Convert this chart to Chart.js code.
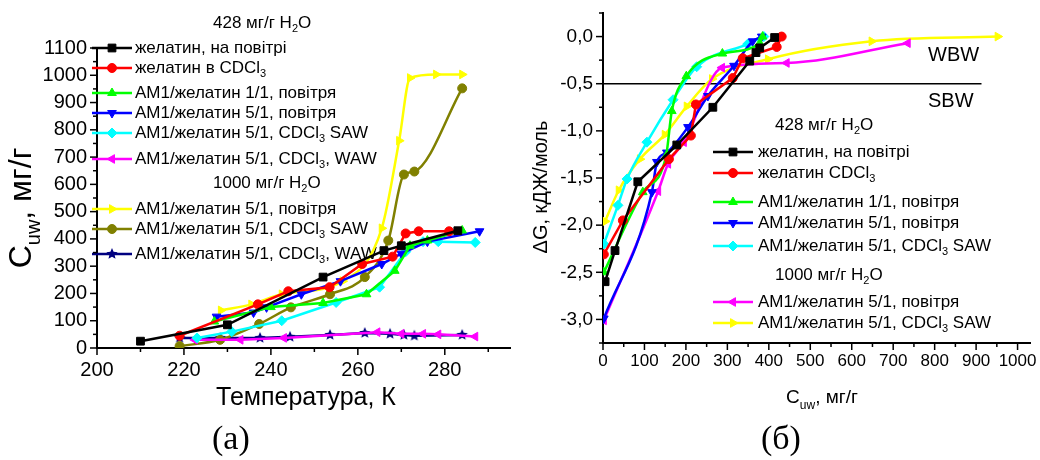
<!DOCTYPE html>
<html>
<head>
<meta charset="utf-8">
<script src="https://cdn.jsdelivr.net/npm/chart.js@4.4.1/dist/chart.umd.min.js"></script>
<style>
  body { margin: 0; background: #fff; }
  #wrap { position: relative; width: 1040px; height: 460px; overflow: hidden; }
  canvas { position: absolute; top: 0; }
  .cap { position: absolute; top: 421px; font-family: 'Liberation Serif', 'Times New Roman', serif; font-size: 34px; line-height: 34px; }
</style>
</head>
<body>
<div id="wrap">
  <canvas id="chartA" width="520" height="460" style="left:0"></canvas>
  <canvas id="chartB" width="520" height="460" style="left:520px"></canvas>
  <div class="cap" style="left:212px">(а)</div>
  <div class="cap" style="left:761px">(б)</div>
</div>
<script>
const FONT = "'Liberation Sans', Arial, sans-serif";

// ---------- panel (а): Cuw vs temperature ----------
const tempTicks = [200, 220, 240, 260, 280];
const tempMinor = [210, 230, 250, 270, 290];
const cuwTicksA = [0, 100, 200, 300, 400, 500, 600, 700, 800, 900, 1000, 1100];
const cuwMinorA = [50, 150, 250, 350, 450, 550, 650, 750, 850, 950, 1050];

// 428 mg/g H2O
const gelAirT = [210, 230, 252, 266, 270, 283];
const gelAirC = [25, 85, 260, 357, 375, 430];
const gelCdclT = [219, 237, 244, 253.5, 261, 268, 271, 274, 281];
const gelCdclC = [45, 160, 208, 223, 308, 335, 420, 428, 428];
const am11AirT = [227, 240, 252, 262, 268.5, 272, 276, 284];
const am11AirC = [97, 150, 165, 197, 283, 375, 394, 431];
const am51AirT = [227.5, 236, 239, 247, 256, 265.5, 270, 276, 288];
const am51AirC = [115, 130, 149, 197, 245, 308, 346, 390, 428];
const am51SawT = [223, 231, 242.5, 255, 265, 271, 275, 278.5, 287];
const am51SawC = [37, 60, 100, 167, 223, 353, 390, 390, 387];
const am51WawT = [222.5, 233, 243, 264.5, 270, 275, 278.5, 287];
const am51WawC = [30, 30, 37, 58, 52, 52, 50, 42];
// 1000 mg/g H2O
const hiAirT = [228.5, 235.5, 242.5, 256.5, 265.5, 269.5, 272, 278, 284];
const hiAirC = [138, 160, 197, 245, 439, 760, 990, 1003, 1003];
const hiSawT = [219, 228.3, 237.3, 244.6, 253.6, 261.6, 267, 270.6, 273, 284];
const hiSawC = [7, 30, 88, 149, 197, 260, 394, 636, 647, 952];
const hiWawT = [219, 228.4, 237.5, 244.4, 253.6, 261.6, 267.4, 270.6, 273, 284];
const hiWawC = [37, 37, 37, 41, 48, 55, 52, 48, 45, 48];

// ---------- panel (б): dG vs Cuw ----------
const cuwTicksB = [0, 100, 200, 300, 400, 500, 600, 700, 800, 900, 1000];
const cuwMinorB = [50, 150, 250, 350, 450, 550, 650, 750, 850, 950];
const dgTicks = [-3.0, -2.5, -2.0, -1.5, -1.0, -0.5, 0.0];
const dgMinor = [-3.25, -2.75, -2.25, -1.75, -1.25, -0.75, -0.25, 0.25];

const dgGelAirX = [5, 29, 84, 178, 265, 354, 369, 378, 414];
const dgGelAirY = [-2.60, -2.27, -1.54, -1.15, -0.75, -0.26, -0.17, -0.12, -0.01];
const dgGelCdclX = [2, 48, 159, 212, 224, 313, 337, 419, 431];
const dgGelCdclY = [-2.31, -1.95, -1.30, -1.05, -0.72, -0.44, -0.23, -0.11, 0.0];
const dgAm11AirX = [2, 96, 152, 166, 201, 288, 378, 385];
const dgAm11AirY = [-2.50, -1.65, -1.27, -0.79, -0.42, -0.18, -0.07, 0.0];
const dgAm51AirX = [2, 118, 130, 154, 205, 253, 316, 361, 383];
const dgAm51AirY = [-2.99, -1.65, -1.33, -1.23, -0.96, -0.63, -0.31, -0.05, 0.0];
const dgAm51SawX = [2, 36, 58, 106, 169, 226, 349, 388];
const dgAm51SawY = [-2.20, -1.79, -1.51, -1.12, -0.67, -0.32, -0.08, 0.0];
const dgHiAirX = [2, 133, 157, 195, 287, 443, 735];
const dgHiAirY = [-3.01, -1.64, -1.35, -1.12, -0.33, -0.28, -0.07];
const dgHiSawX = [5, 38, 89, 149, 202, 263, 398, 648, 952];
const dgHiSawY = [-1.96, -1.63, -1.30, -1.04, -0.74, -0.45, -0.24, -0.05, 0.0];
// boundary between strongly and weakly bound water
const boundX = [0, 913];
const boundY = [-0.5, -0.5];

// ---------- helpers ----------
function starImage(color, r) {
  const c = document.createElement('canvas');
  c.width = c.height = 2 * r + 2;
  const g = c.getContext('2d');
  g.fillStyle = color;
  g.beginPath();
  for (let i = 0; i < 10; i++) {
    const a = -Math.PI / 2 + i * Math.PI / 5;
    const rr = i % 2 ? r * 0.45 : r;
    g.lineTo(r + 1 + rr * Math.cos(a), r + 1 + rr * Math.sin(a));
  }
  g.closePath();
  g.fill();
  return c;
}

const SQUARE = { shape: 'rect', r: 5.5 };
const CIRCLE = { shape: 'circle', r: 4.5 };
const UP = { shape: 'triangle', r: 5 };
const DOWN = { shape: 'triangle', rot: 180, r: 5 };
const DIAMOND = { shape: 'rectRot', r: 5 };
const LEFT = { shape: 'triangle', rot: -90, r: 5 };
const RIGHT = { shape: 'triangle', rot: 90, r: 5 };
const STAR = { shape: starImage('#000080', 6), r: 5 };

function series(label, xs, ys, color, mark, smooth) {
  return {
    label,
    data: xs.map((x, i) => ({ x, y: ys[i] })),
    borderColor: color,
    backgroundColor: color,
    pointBackgroundColor: color,
    pointBorderColor: color,
    pointBorderWidth: 1,
    borderWidth: 2.5,
    pointStyle: mark.shape,
    pointRotation: mark.rot || 0,
    pointRadius: mark.r,
    tension: 0,
    cubicInterpolationMode: smooth ? 'monotone' : 'default'
  };
}

function drawRich(ctx, text, x, y, size, align) {
  const parts = [];
  const re = /_\{([^}]*)\}|_(.)/g;
  let last = 0, m;
  while ((m = re.exec(text))) {
    if (m.index > last) parts.push({ t: text.slice(last, m.index), sub: false });
    parts.push({ t: m[1] || m[2], sub: true });
    last = re.lastIndex;
  }
  if (last < text.length) parts.push({ t: text.slice(last), sub: false });
  ctx.save();
  ctx.fillStyle = '#000';
  ctx.textBaseline = 'middle';
  const fN = size + 'px ' + FONT, fS = Math.round(size * 0.62) + 'px ' + FONT;
  let w = 0;
  parts.forEach(p => { ctx.font = p.sub ? fS : fN; p.w = ctx.measureText(p.t).width; w += p.w; });
  let cx = align === 'center' ? x - w / 2 : align === 'right' ? x - w : x;
  parts.forEach(p => {
    ctx.font = p.sub ? fS : fN;
    ctx.fillText(p.t, cx, p.sub ? y + size * 0.38 : y);
    cx += p.w;
  });
  ctx.restore();
}

const isIn = (arr, v) => arr.some(a => Math.abs(a - v) < 1e-6);

// legend drawn inside the plot, Origin-like, with headings
const legendPlugin = {
  id: 'panelLegend',
  beforeDatasetsDraw(chart, args, o) {
    const ctx = chart.ctx;
    o.rows.forEach(row => {
      if (row.heading) { drawRich(ctx, row.heading, o.headX, row.y, o.size, 'left'); return; }
      const ds = chart.data.datasets[row.ds];
      ctx.save();
      ctx.strokeStyle = ds.borderColor;
      ctx.lineWidth = ds.borderWidth;
      ctx.beginPath();
      ctx.moveTo(o.lineX0, row.y);
      ctx.lineTo(o.lineX1, row.y);
      ctx.stroke();
      ctx.fillStyle = ds.pointBackgroundColor;
      ctx.lineWidth = 1;
      Chart.helpers.drawPoint(ctx, { pointStyle: ds.pointStyle, rotation: ds.pointRotation, radius: ds.pointRadius, borderWidth: 1 }, (o.lineX0 + o.lineX1) / 2, row.y);
      ctx.restore();
      drawRich(ctx, ds.label, o.textX, row.y, o.size, 'left');
    });
  }
};

// major / minor tick marks pointing outward
const tickPlugin = {
  id: 'originTicks',
  afterDraw(chart, args, o) {
    const ctx = chart.ctx;
    const { x, y } = chart.scales;
    ctx.save();
    ctx.strokeStyle = '#000';
    ctx.lineWidth = 1.5;
    x.ticks.forEach(t => {
      const px = x.getPixelForValue(t.value);
      const len = isIn(o.xMajor, t.value) ? 7 : 4;
      ctx.beginPath(); ctx.moveTo(px, x.top); ctx.lineTo(px, x.top + len); ctx.stroke();
    });
    y.ticks.forEach(t => {
      const py = y.getPixelForValue(t.value);
      const len = isIn(o.yMajor, t.value) ? 7 : 4;
      ctx.beginPath(); ctx.moveTo(y.right, py); ctx.lineTo(y.right - len, py); ctx.stroke();
    });
    ctx.restore();
  }
};

// axis titles and free labels (with subscripts)
const textPlugin = {
  id: 'freeText',
  afterDraw(chart, args, o) {
    const ctx = chart.ctx;
    o.items.forEach(it => {
      ctx.save();
      ctx.translate(it.x, it.y);
      if (it.rotate) ctx.rotate(-Math.PI / 2);
      drawRich(ctx, it.text, 0, 0, it.size, it.align || 'center');
      ctx.restore();
    });
  }
};

function axis(min, max, majors, minors, fmt, size, thickness, horizontal, pad) {
  return {
    type: 'linear', min, max,
    afterBuildTicks: s => { s.ticks = majors.concat(minors).sort((a, b) => a - b).map(v => ({ value: v })); },
    afterFit: s => {
      if (horizontal) { s.height = thickness; s.paddingLeft = 0; s.paddingRight = 0; }
      else { s.width = thickness; s.paddingTop = 0; s.paddingBottom = 0; }
    },
    ticks: {
      autoSkip: false, maxRotation: 0, padding: pad, color: '#000',
      font: { family: FONT, size },
      callback: v => isIn(majors, v) ? fmt(v) : ''
    },
    grid: { drawOnChartArea: false, drawTicks: true, tickLength: 7, color: 'rgba(0,0,0,0)' },
    border: { display: true, color: '#000', width: 2 }
  };
}

// ---------- chart (а) ----------
new Chart(document.getElementById('chartA'), {
  type: 'line',
  data: {
    datasets: [
      series('желатин, на повітрі', gelAirT, gelAirC, '#000000', SQUARE),
      series('желатин в CDCl_3', gelCdclT, gelCdclC, '#ff0000', CIRCLE),
      series('АМ1/желатин 1/1, повітря', am11AirT, am11AirC, '#00ff00', UP),
      series('АМ1/желатин 5/1, повітря', am51AirT, am51AirC, '#0000ff', DOWN),
      series('АМ1/желатин 5/1, CDCl_3 SAW', am51SawT, am51SawC, '#00ffff', DIAMOND),
      series('АМ1/желатин 5/1, CDCl_3, WAW', am51WawT, am51WawC, '#ff00ff', LEFT),
      series('АМ1/желатин 5/1, повітря', hiAirT, hiAirC, '#ffff00', RIGHT, true),
      series('АМ1/желатин 5/1, CDCl_3 SAW', hiSawT, hiSawC, '#808000', CIRCLE, true),
      series('АМ1/желатин 5/1, CDCl_3, WAW', hiWawT, hiWawC, '#000080', STAR)
    ]
  },
  options: {
    responsive: false,
    animation: false,
    layout: { padding: { left: 0, top: 48, right: 10, bottom: 0 } },
    plugins: {
      legend: { display: false },
      tooltip: { enabled: false },
      panelLegend: {
        headX: 213, lineX0: 92, lineX1: 132, textX: 135, size: 17,
        rows: [
          { heading: '428 мг/г H_2O', y: 23 },
          { ds: 0, y: 48 }, { ds: 1, y: 68 }, { ds: 2, y: 93 }, { ds: 3, y: 113 },
          { ds: 4, y: 133 }, { ds: 5, y: 159 },
          { heading: '1000 мг/г H_2O', y: 183 },
          { ds: 6, y: 209 }, { ds: 7, y: 229 }, { ds: 8, y: 254 }
        ]
      },
      originTicks: { xMajor: tempTicks, yMajor: cuwTicksA },
      freeText: {
        items: [
          { text: 'Температура, К', x: 306, y: 398, size: 25 },
          { text: 'C_{uw}, мг/г', x: 22, y: 208, size: 32, rotate: true }
        ]
      }
    },
    scales: {
      x: axis(200, 295, tempTicks, tempMinor, v => String(v), 20, 112, true, 3),
      y: axis(0, 1100, cuwTicksA, cuwMinorA, v => String(v), 20, 97, false, 3)
    }
  },
  plugins: [legendPlugin, tickPlugin, textPlugin]
});

// ---------- chart (б) ----------
const boundLine = series('', boundX, boundY, '#000000', CIRCLE);
boundLine.pointRadius = 0;
boundLine.borderWidth = 1.5;

new Chart(document.getElementById('chartB'), {
  type: 'line',
  data: {
    datasets: [
      series('желатин, на повітрі', dgGelAirX, dgGelAirY, '#000000', SQUARE),
      series('желатин CDCl_3', dgGelCdclX, dgGelCdclY, '#ff0000', CIRCLE),
      series('АМ1/желатин 1/1, повітря', dgAm11AirX, dgAm11AirY, '#00ff00', UP, true),
      series('АМ1/желатин 5/1, повітря', dgAm51AirX, dgAm51AirY, '#0000ff', DOWN, true),
      series('АМ1/желатин 5/1, CDCl_3 SAW', dgAm51SawX, dgAm51SawY, '#00ffff', DIAMOND, true),
      series('АМ1/желатин 5/1, повітря', dgHiAirX, dgHiAirY, '#ff00ff', LEFT, true),
      series('АМ1/желатин 5/1, CDCl_3 SAW', dgHiSawX, dgHiSawY, '#ffff00', RIGHT, true),
      boundLine
    ]
  },
  options: {
    responsive: false,
    animation: false,
    layout: { padding: { left: 0, top: 13, right: 10, bottom: 0 } },
    plugins: {
      legend: { display: false },
      tooltip: { enabled: false },
      panelLegend: {
        headX: 255, lineX0: 193, lineX1: 233, textX: 238, size: 17,
        rows: [
          { heading: '428 мг/г H_2O', y: 125 },
          { ds: 0, y: 152 }, { ds: 1, y: 173 }, { ds: 2, y: 202 }, { ds: 3, y: 223 }, { ds: 4, y: 246 },
          { heading: '1000 мг/г H_2O', y: 275 },
          { ds: 5, y: 302 }, { ds: 6, y: 323 }
        ]
      },
      originTicks: { xMajor: cuwTicksB, yMajor: dgTicks },
      freeText: {
        items: [
          { text: 'C_{uw}, мг/г', x: 302, y: 398, size: 19 },
          { text: 'ΔG, кДЖ/моль', x: 21, y: 187, size: 20, rotate: true },
          { text: 'WBW', x: 408, y: 55, size: 20, align: 'left' },
          { text: 'SBW', x: 408, y: 101, size: 20, align: 'left' }
        ]
      }
    },
    scales: {
      x: axis(0, 1030, cuwTicksB, cuwMinorB, v => String(v), 17, 117, true, 1),
      y: axis(-3.25, 0.25, dgTicks, dgMinor, v => v.toFixed(1).replace('.', ','), 19, 83, false, 3)
    }
  },
  plugins: [legendPlugin, tickPlugin, textPlugin]
});
</script>
</body>
</html>
